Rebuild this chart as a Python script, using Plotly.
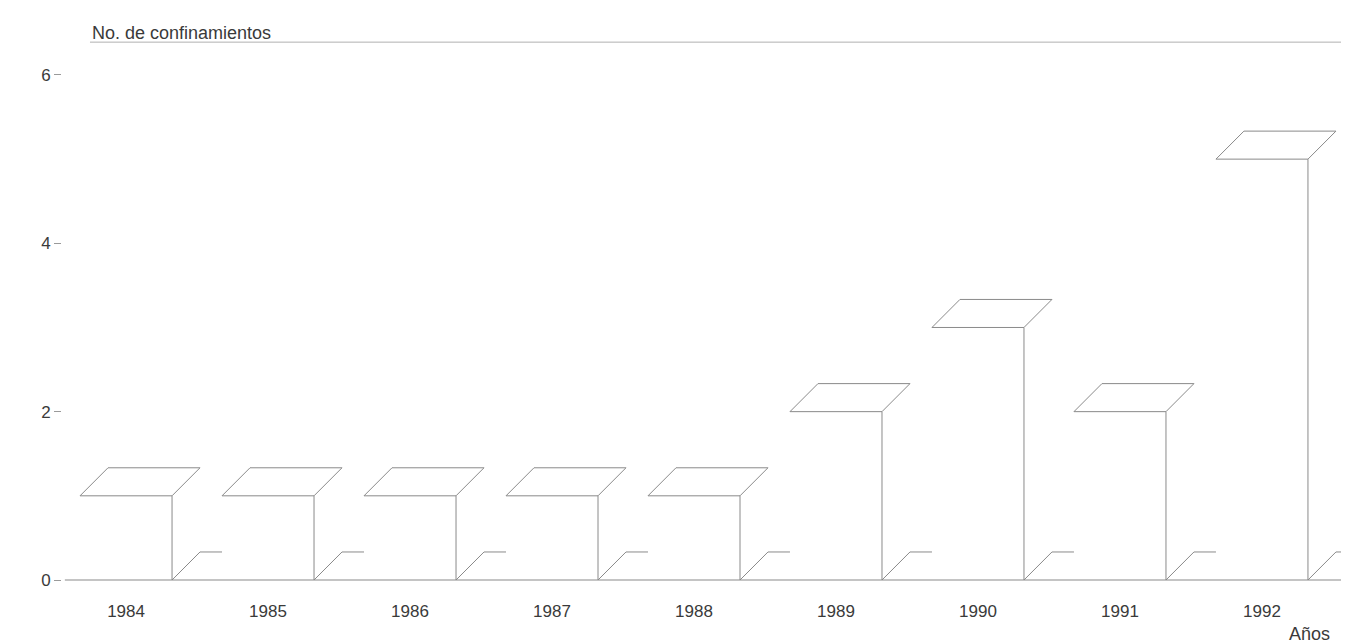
import plotly.graph_objects as go

# ---- data ----
years = [1984, 1985, 1986, 1987, 1988, 1989, 1990, 1991, 1992]
confinamientos = [1, 1, 1, 1, 1, 2, 3, 2, 5]
y_ticks = [0, 2, 4, 6]
title_text = "No. de confinamientos"
x_title = "Años"

# ---- 3D box style (in axis units) ----
W = 0.648      # bar front width (years)
DX = 0.197     # depth offset along x
DY = 0.333     # depth offset along y
BACK_TOP = 6.39
X_MIN, X_MAX = 1983.549, 1992.613
Y_MIN, Y_MAX = -0.1545, 6.653
LINE = "#8a8a8a"
TXT = "#3a3a3a"

xs, ys = [], []
def seg(pts):
    for p in pts:
        xs.append(p[0]); ys.append(p[1])
    xs.append(None); ys.append(None)

for i, (yr, v) in enumerate(zip(years, confinamientos)):
    xl, xr = yr - W / 2, yr + W / 2
    # top face (parallelogram) + top front edge
    seg([(xl, v), (xl + DX, v + DY), (xr + DX, v + DY), (xr, v), (xl, v)])
    # right front vertical edge
    seg([(xr, v), (xr, 0)])
    # floor: side diagonal and visible back edge up to next bar
    nxt = years[i + 1] - W / 2 if i + 1 < len(years) else X_MAX
    seg([(xr, 0), (xr + DX, DY), (nxt, DY)])

fig = go.Figure()
# front faces as bars (white)
fig.add_trace(go.Bar(x=years, y=confinamientos, width=W,
                     marker=dict(color="white", line=dict(width=0)),
                     hoverinfo="x+y", showlegend=False))
# floor front line
fig.add_trace(go.Scatter(x=[X_MIN + 0.02, X_MAX], y=[0, 0], mode="lines",
                         line=dict(color=LINE, width=1.2), hoverinfo="skip", showlegend=False))
# back wall top line
fig.add_trace(go.Scatter(x=[X_MIN + DX, X_MAX], y=[BACK_TOP, BACK_TOP],
                         mode="lines", line=dict(color="#b0b0b0", width=1),
                         hoverinfo="skip", showlegend=False))
# box edges
fig.add_trace(go.Scatter(x=xs, y=ys, mode="lines", line=dict(color=LINE, width=1),
                         hoverinfo="skip", showlegend=False, connectgaps=False))

fig.update_layout(
    width=1341, height=635,
    margin=dict(l=54, r=0, t=12, b=50),
    paper_bgcolor="white", plot_bgcolor="white",
    font=dict(family="Liberation Sans, Arial, sans-serif", size=16, color=TXT),
    showlegend=False,
    xaxis=dict(range=[X_MIN, X_MAX], tickvals=years, ticktext=[str(y) for y in years],
               showgrid=False, zeroline=False, showline=False, ticks="",
               ticklabelstandoff=6,
               tickfont=dict(size=17, color=TXT)),
    yaxis=dict(range=[Y_MIN, Y_MAX], tickvals=y_ticks, ticktext=[str(t) for t in y_ticks],
               showgrid=False, zeroline=False, showline=False, ticks="outside",
               ticklen=7, tickcolor="#9a9a9a", tickwidth=1,
               tickfont=dict(size=17, color=TXT)),
    annotations=[
        dict(text=title_text, xref="paper", yref="paper", x=0.0218, y=0.9773,
             xanchor="left", yanchor="middle", showarrow=False,
             font=dict(size=18, color=TXT)),
        dict(text=x_title, xref="paper", yref="paper", x=0.9868, y=0,
             xanchor="right", yanchor="middle", showarrow=False,
             font=dict(size=18, color=TXT), yshift=-41),
    ],
)

fig.write_html("out.html")
